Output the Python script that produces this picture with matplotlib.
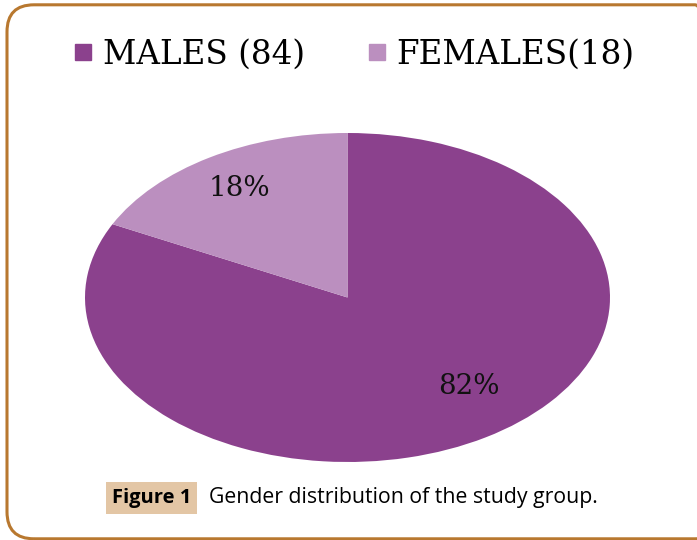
import matplotlib.pyplot as plt
from matplotlib.patches import FancyBboxPatch
from matplotlib.lines import Line2D

# data
labels = ['MALES (84)', 'FEMALES(18)']
counts = [84, 18]
colors = ['#8B418D', '#BB8FBF']

fig = plt.figure(figsize=(6.97, 5.40), dpi=100)

# rounded frame around the chart (right side runs off the picture), in inches
frame = FancyBboxPatch((0.07, 0.012), 7.15, 5.34,
                       boxstyle='round,pad=0,rounding_size=0.27',
                       transform=fig.dpi_scale_trans, facecolor='none',
                       edgecolor='#B8782F', linewidth=2.2)
fig.patches.append(frame)

ax = fig.add_axes([85/697, 1 - 462/540, 525/697, 329/540])
wedges, texts, autotexts = ax.pie(counts, colors=colors, startangle=90, counterclock=False,
                                  autopct='%1.0f%%', pctdistance=0.78,
                                  textprops={'family': 'DejaVu Serif', 'fontsize': 20, 'color': '#111111'})
ax.set_aspect('auto')
ax.set_xlim(-1, 1)
ax.set_ylim(-1, 1)
# males label sits a bit right of the radial spot
x82, y82 = autotexts[0].get_position()
autotexts[0].set_position((x82 + 0.05, y82 + 0.12))

handles = [Line2D([], [], marker='s', linestyle='none', markersize=12,
                  markerfacecolor=c, markeredgecolor=c) for c in colors]
fig.legend(handles, labels, loc='center', bbox_to_anchor=(0.508, 0.899), ncol=2,
           frameon=False, prop={'family': 'DejaVu Serif', 'size': 23.5},
           handletextpad=0.3, columnspacing=1.9, handlelength=0.6)

# caption
fig.text(151.5/697, 1 - 498/540, 'Figure 1', ha='center', va='center', fontsize=14.5,
         fontweight='bold', family='Open Sans',
         bbox=dict(boxstyle='square,pad=0.3', facecolor='#E3C6A5', edgecolor='none'))
fig.text(209/697, 1 - 498/540, 'Gender distribution of the study group.', ha='left', va='center',
         fontsize=15.3, family='Open Sans')

fig.savefig('out.png', dpi=100)
